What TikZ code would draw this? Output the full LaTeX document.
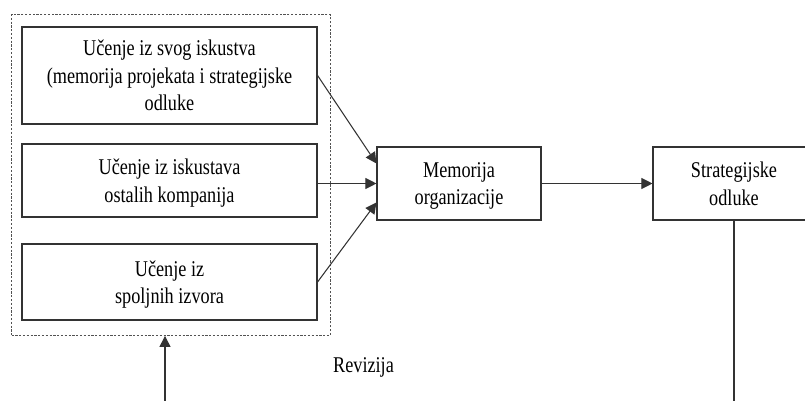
\documentclass[tikz,border=0pt]{standalone}
\usepackage{fontspec}
\setmainfont[FakeStretch=0.81]{Liberation Serif}
\usetikzlibrary{arrows.meta}
\definecolor{edge}{HTML}{333333}
\tikzset{
  x=1pt, y=-1pt,
  box/.style={draw=edge, line width=1.1pt, rectangle, inner sep=0pt,
    align=center, font=\fontsize{22.5}{27.5}\selectfont, text=black,
    text depth=0pt},
  frame/.style={draw=edge!85, line width=0.8pt, dash pattern=on 2.2pt off 1.6pt,
    rectangle, inner sep=0pt},
  link/.style={draw=edge, line width=1.05pt},
  arr/.style={link, -{Triangle[length=11pt, width=11pt]}},
  lbl/.style={font=\fontsize{22.5}{27.5}\selectfont, inner sep=0pt}
}
\begin{document}
\begin{tikzpicture}
\useasboundingbox (0,0) rectangle (805,401);
\clip (0,0) rectangle (805,401);
\fill[white] (0,0) rectangle (805,401);

% dashed group of learning sources
\node[frame, minimum width=318.5pt, minimum height=321pt] (grp) at (170.75,175) {};

\node[box, minimum width=295pt, minimum height=97pt] (b1) at (169.5,75.5)
  {Učenje iz svog iskustva\\(memorija projekata i strategijske\\odluke};
\node[box, minimum width=295pt, minimum height=73pt] (b2) at (169.5,180.5)
  {Učenje iz iskustava\\ostalih kompanija};
\node[box, minimum width=295pt, minimum height=76pt] (b3) at (169.5,282)
  {Učenje iz\\spoljnih izvora};

\node[box, minimum width=164pt, minimum height=73pt] (mem) at (459,183.5)
  {Memorija\\organizacije};
\node[box, minimum width=162pt, minimum height=73pt] (str) at (734,183.5)
  {Strategijske\\odluke};

\node[lbl] (rev) at (363.5,367) {Revizija};

\coordinate (fbl) at (165,401);
\coordinate (fbr) at (734,401);

% inputs to organizational memory
\draw[arr] (b1.east) -- ([yshift=20pt]mem.west);
\draw[arr] (b2.east |- mem.west) -- (mem.west);
\draw[arr] (b3.east) -- ([yshift=-19pt]mem.west);
\draw[arr] (mem.east) -- (str.west);

% revision feedback loop
\draw[link] (str.south) -- (fbr);
\draw[arr] (fbl) -- (fbl |- grp.south);
\end{tikzpicture}
\end{document}
